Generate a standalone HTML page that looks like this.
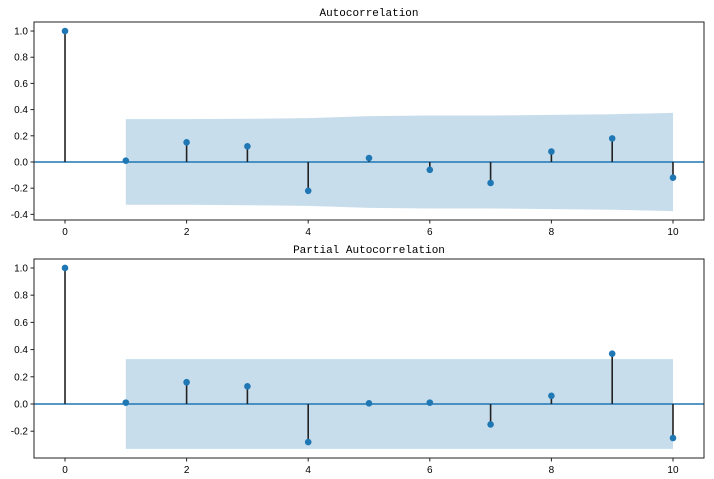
<!DOCTYPE html>
<html><head><meta charset="utf-8"><style>body{margin:0;background:#fff}svg{display:block}text{font-family:"Liberation Sans","Noto Sans CJK SC",sans-serif;font-size:10px;fill:#000}</style></head>
<body>
<svg id="c" width="714" height="479"></svg>
<script>
const lags=[0,1,2,3,4,5,6,7,8,9,10];
const acfVals=[1,0.01,0.15,0.12,-0.22,0.03,-0.06,-0.16,0.08,0.18,-0.12];
const acfConf=[0,0.327,0.327,0.33,0.335,0.35,0.355,0.355,0.36,0.365,0.375];
const pacfVals=[1,0.01,0.16,0.13,-0.28,0.005,0.01,-0.15,0.06,0.37,-0.25];
const pacfConf=[0,0.33,0.33,0.33,0.33,0.33,0.33,0.33,0.33,0.33,0.33];
const acfTicks=[1.0,0.8,0.6,0.4,0.2,0.0,-0.2,-0.4];
const pacfTicks=[1.0,0.8,0.6,0.4,0.2,0.0,-0.2];
const xTicks=[0,2,4,6,8,10];
const svg=document.getElementById('c');const NS='http://www.w3.org/2000/svg';
function mk(t,a,p){const e=document.createElementNS(NS,t);for(const k in a)e.setAttribute(k,a[k]);(p||svg).appendChild(e);return e;}
function panel(name,title,vals,conf,ticks,top,bottom,ymin,ymax){
 const L=34,R=704;const g=mk('g',{});
 
 
 const x=v=>L+(v+0.51)/(11.02)*(R-L);
 const y=v=>top+(ymax-v)/(ymax-ymin)*(bottom-top);
 let d='M'+x(1)+','+y(conf[1]);
 for(let i=2;i<lags.length;i++)d+='L'+x(lags[i])+','+y(conf[i]);
 for(let i=lags.length-1;i>=1;i--)d+='L'+x(lags[i])+','+y(-conf[i]);
 const band=mk('path',{d:d+'Z',fill:'#1f77b4','fill-opacity':0.25},g);
 
 
 const zl=mk('line',{x1:L,x2:R,y1:y(0),y2:y(0),stroke:'#1f77b4','stroke-width':1.5},g);
 
 
 for(let i=0;i<lags.length;i++){
  const s=mk('line',{x1:x(lags[i]),x2:x(lags[i]),y1:y(0),y2:y(vals[i]),stroke:'#222','stroke-width':1.6},g);
  
  
  const c=mk('circle',{cx:x(lags[i]),cy:y(vals[i]),r:3.3,fill:'#1f77b4'},g);
  
  
 }
 const fr=mk('rect',{x:L,y:top,width:R-L,height:bottom-top,fill:'none',stroke:'#222','stroke-width':1},g);
 
 
 ticks.forEach(t=>{mk('line',{x1:L-3.5,x2:L,y1:y(t),y2:y(t),stroke:'#222'},g);
  const tx=mk('text',{x:L-6,y:y(t)+3.5,'text-anchor':'end'},g);tx.textContent=t.toFixed(1);
  
  });
 xTicks.forEach(t=>{mk('line',{x1:x(t),x2:x(t),y1:bottom,y2:bottom+3.5,stroke:'#222'},g);
  const tx=mk('text',{x:x(t),y:bottom+15,'text-anchor':'middle'},g);tx.textContent=t;
  
  });
 const tt=mk('text',{x:(L+R)/2,y:top-6,'text-anchor':'middle',style:'font-family:"Liberation Mono",monospace;font-size:11px'},g);tt.textContent=title;
 
 
}
panel('acf-panel','Autocorrelation',acfVals,acfConf,acfTicks,22,220,-0.443,1.069);
panel('pacf-panel','Partial Autocorrelation',pacfVals,pacfConf,pacfTicks,259,458,-0.397,1.066);
</script>
</body></html>
